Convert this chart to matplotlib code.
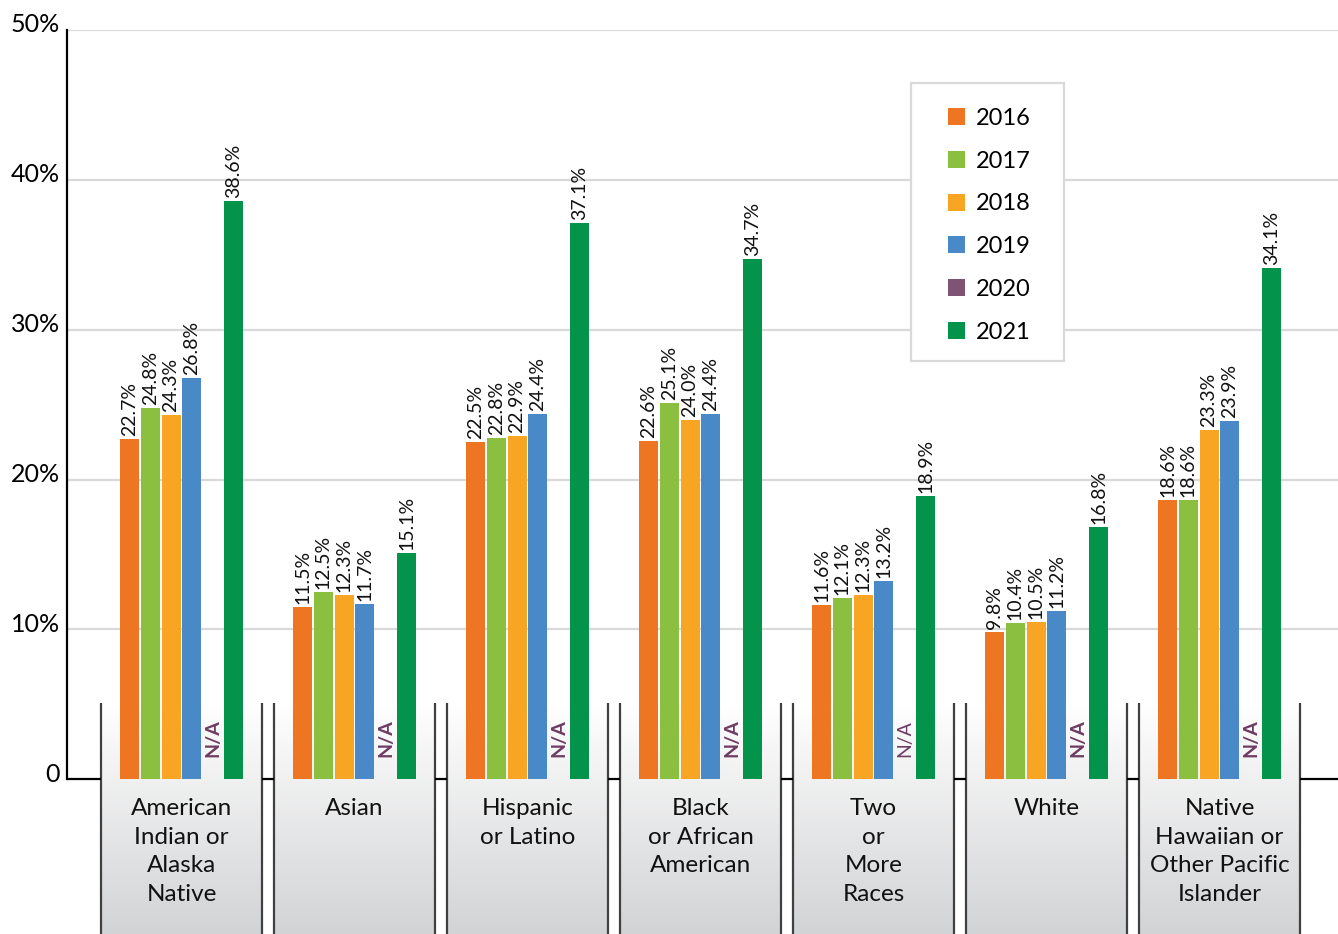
import matplotlib
matplotlib.use('Agg')
import matplotlib.pyplot as plt
import numpy as np
from matplotlib.patches import Rectangle, Patch
from matplotlib.colors import LinearSegmentedColormap
import matplotlib.transforms as mtrans

plt.rcParams['font.family'] = ['Lato', 'DejaVu Sans']

categories = ["American\nIndian or\nAlaska\nNative", "Asian", "Hispanic\nor Latino",
              "Black\nor African\nAmerican", "Two\nor\nMore\nRaces", "White",
              "Native\nHawaiian or\nOther Pacific\nIslander"]
years = ["2016", "2017", "2018", "2019", "2020", "2021"]
v2016 = [22.7, 11.5, 22.5, 22.6, 11.6, 9.8, 18.6]
v2017 = [24.8, 12.5, 22.8, 25.1, 12.1, 10.4, 18.6]
v2018 = [24.3, 12.3, 22.9, 24.0, 12.3, 10.5, 23.3]
v2019 = [26.8, 11.7, 24.4, 24.4, 13.2, 11.2, 23.9]
v2020 = [None, None, None, None, None, None, None]
v2021 = [38.6, 15.1, 37.1, 34.7, 18.9, 16.8, 34.1]
na_text = "N/A"
na_bold = [True, True, True, True, False, True, True]
yticks = [0, 10, 20, 30, 40, 50]
ytick_labels = ["0", "10%", "20%", "30%", "40%", "50%"]

series = [v2016, v2017, v2018, v2019, v2020, v2021]
colors = ["#EE7623", "#8ABF3F", "#F8A523", "#4A89C8", "#7F5373", "#03934A"]
na_color = "#6E3B63"

W, H = 1338, 934
fig = plt.figure(figsize=(W / 100, H / 100), dpi=100)
ax = fig.add_axes([67 / W, 0, 1 - 67 / W, (H - 30) / H])

px = 1 / 173.0            # data units per pixel horizontally
py = 1 / 15.0             # data units per pixel vertically
ymin = -155 * py
xmin = -(181.5 - 67) * px
xmax = xmin + (W - 67) * px

n = len(categories)
x = np.arange(n)
slot = 20.8 * px
barw = 19 * px
boxhalf = 80.5 * px
boxtop = 76 * py

# gridlines
for t in yticks[1:]:
    ax.axhline(t, color="#d9d9d9", lw=1.6, zorder=0.5)

# gradient boxes
cmap = LinearSegmentedColormap.from_list("g", ["#ffffff", "#d2d3d5"])
grad = np.linspace(0, 1, 256).reshape(-1, 1)
for i in range(n):
    ax.imshow(grad, extent=(i - boxhalf, i + boxhalf, ymin, boxtop), origin="upper",
              cmap=cmap, aspect="auto", zorder=1)
    for xe in (i - boxhalf, i + boxhalf):
        ax.plot([xe, xe], [ymin, boxtop], color="#404040", lw=1.6, zorder=3,
                solid_capstyle="butt")

# axis segments between boxes
edges = [xmin] + [e for i in range(n) for e in (i - boxhalf, i + boxhalf)] + [xmax]
for k in range(0, len(edges), 2):
    ax.plot([edges[k], edges[k + 1]], [0, 0], color="black", lw=1.6, zorder=3,
            solid_capstyle="butt")

# bars
for j, (vals, c) in enumerate(zip(series, colors)):
    off = (j - 2.5) * slot
    for i, v in enumerate(vals):
        if v is None:
            ax.text(i + off, 22 * py, na_text, rotation=90, ha="center", va="bottom",
                    color=na_color, fontsize=14,
                    fontweight="bold" if na_bold[i] else "normal", zorder=5)
            continue
        ax.bar(i + off, v, width=barw, color=c, zorder=2)
        ax.text(i + off, v + 3 * py, f"{v:.1f}%", rotation=90, ha="center", va="bottom",
                fontsize=14, color="#111111", zorder=5)

# category labels
for i, lab in enumerate(categories):
    ax.text(i, -19 * py, lab, ha="center", va="top", fontsize=17.5, color="#111111",
            linespacing=1.445, zorder=5)

ax.set_xlim(xmin, xmax)
ax.set_ylim(ymin, 50)
for s in ["top", "right", "bottom"]:
    ax.spines[s].set_visible(False)
ax.spines["left"].set_bounds(0, 50)
ax.spines["left"].set_linewidth(1.6)
ax.set_xticks([])
ax.set_yticks(yticks)
ax.set_yticklabels(ytick_labels, fontsize=18)
ax.tick_params(axis="y", length=0, pad=5)
for lbl in ax.get_yticklabels():
    lbl.set_transform(lbl.get_transform() + mtrans.ScaledTranslation(0, 7 / 100, fig.dpi_scale_trans))

# legend
frame = Rectangle((911 / W, 1 - 361 / H), 153 / W, 278 / H, transform=fig.transFigure,
                  facecolor="white", edgecolor="#d9d9d9", lw=1.6, zorder=6, clip_on=False)
ax.add_patch(frame)
handles = [Patch(facecolor=c, edgecolor="none", label=y) for c, y in zip(colors, years)]
leg = ax.legend(handles=handles, loc="upper left", bbox_to_anchor=(948 / W, 1 - 108 / H),
                bbox_transform=fig.transFigure, frameon=False, fontsize=17,
                handlelength=0.72, handleheight=0.72, handletextpad=0.45,
                labelspacing=0.92, borderpad=0, borderaxespad=0)
leg.set_zorder(7)

fig.savefig("out.png", dpi=100)
